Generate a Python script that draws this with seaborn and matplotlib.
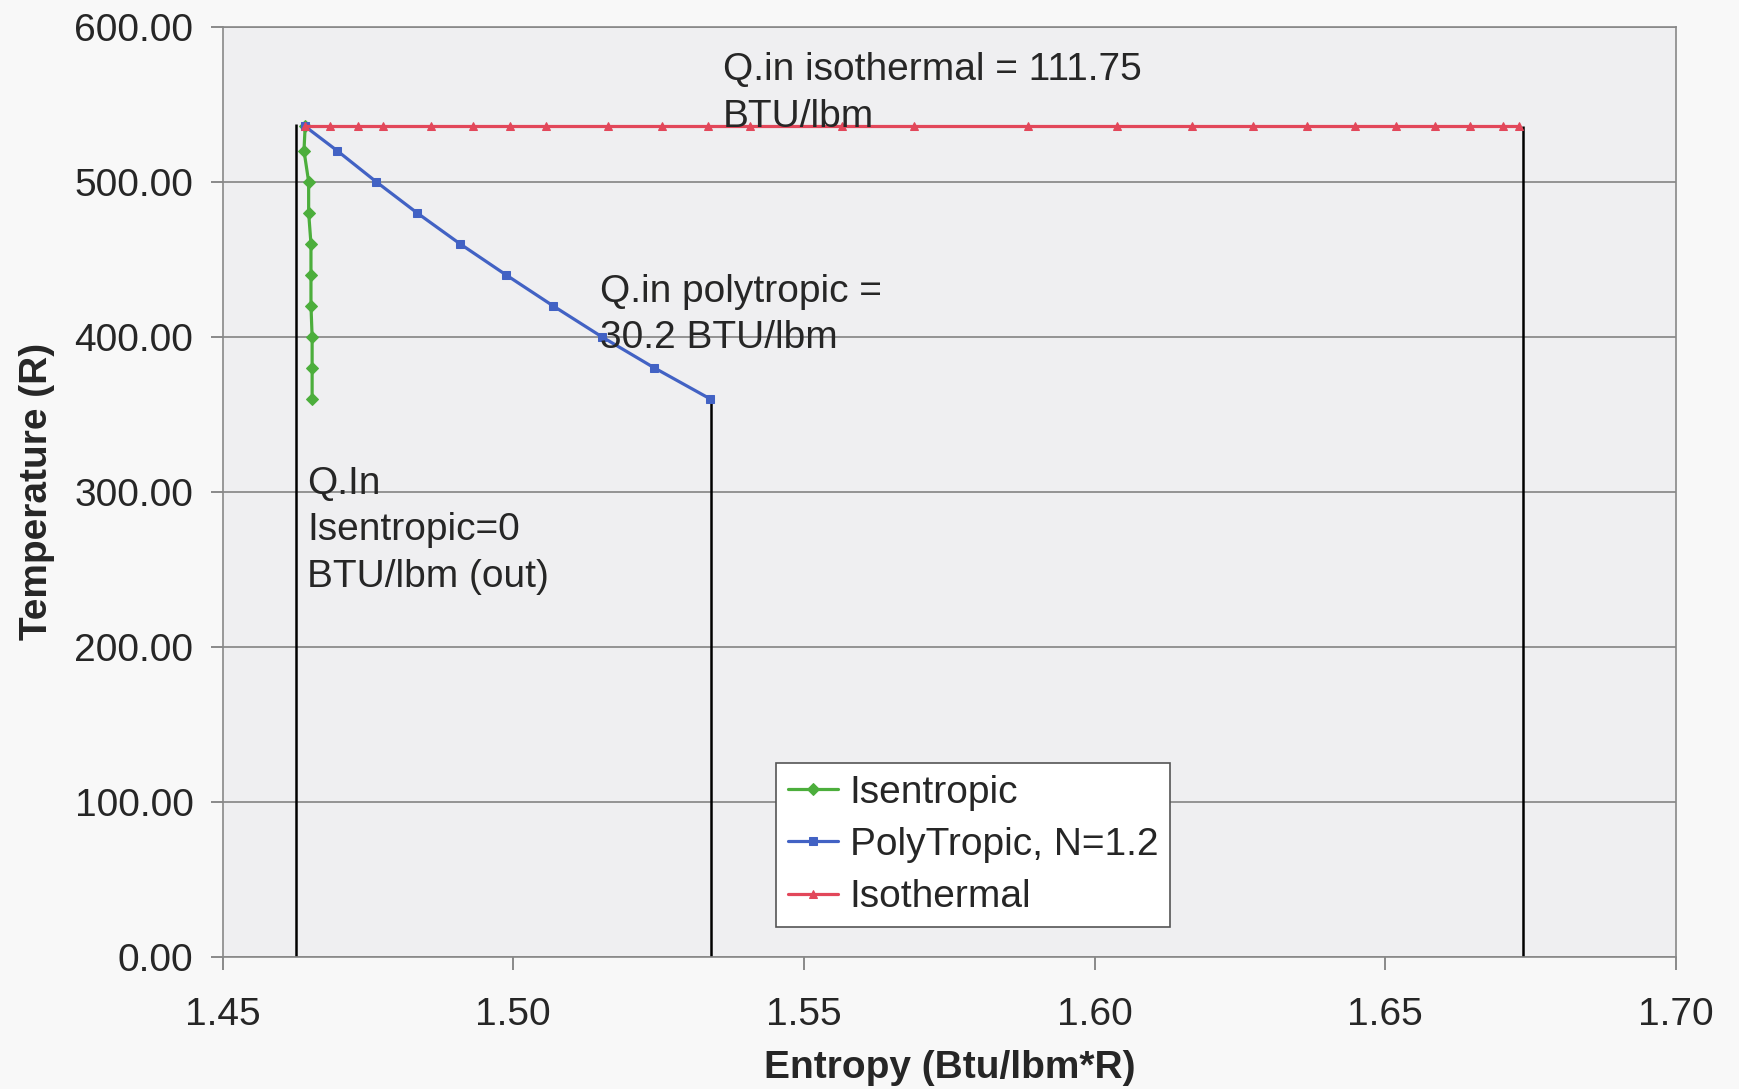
import numpy as np
import pandas as pd
import seaborn as sns
import matplotlib.pyplot as plt

isen_s = [1.4642, 1.4640, 1.4648, 1.4648, 1.4652, 1.4652, 1.4652, 1.4654, 1.4654, 1.4654]
isen_T = [535.67, 520, 500, 480, 460, 440, 420, 400, 380, 360]

poly_s = [1.4642, 1.4697, 1.4764, 1.4834, 1.4908, 1.4987, 1.5068, 1.5152, 1.5242, 1.5338]
poly_T = [535.67, 520, 500, 480, 460, 440, 420, 400, 380, 360]

iso_s = [1.4642, 1.4685, 1.4733, 1.4776, 1.4858, 1.4930, 1.4994, 1.5056, 1.5163,
         1.5255, 1.5335, 1.5408, 1.5565, 1.5689, 1.5886, 1.6038, 1.6167, 1.6273,
         1.6365, 1.6447, 1.6518, 1.6586, 1.6646, 1.6702, 1.6730]
iso_T = [535.67] * len(iso_s)

drop_s = [1.4627, 1.5340, 1.6737]
drop_T = [537, 360, 535.67]

labels = ["Isentropic", "PolyTropic, N=1.2", "Isothermal"]
colors = ["#4cae3c", "#4262c4", "#e2475a"]
markers = ["D", "s", "^"]

sns.set_style("white")
plt.rcParams['font.family'] = ['Liberation Sans', 'DejaVu Sans']

fig = plt.figure(figsize=(17.39, 10.89), dpi=100, facecolor="#f8f8f8")
ax = fig.add_axes([0.128, 0.1215, 0.8358, 0.854])
ax.set_facecolor("#efeff1")

ax.vlines(drop_s, 0, drop_T, colors="black", lw=1.8, zorder=2)

for s, T, lab, c, m in zip([isen_s, poly_s, iso_s], [isen_T, poly_T, iso_T],
                           labels, colors, markers):
    sns.lineplot(x=s, y=T, ax=ax, sort=False, estimator=None, label=lab,
                 color=c, marker=m, markersize=6, markeredgecolor=c, lw=2.3, zorder=3)

ax.set_xlim(1.45, 1.70)
ax.set_ylim(0, 600)
ax.set_xticks(np.arange(1.45, 1.701, 0.05))
ax.set_yticks(np.arange(0, 601, 100))
ax.xaxis.set_major_formatter(plt.FormatStrFormatter("%.2f"))
ax.yaxis.set_major_formatter(plt.FormatStrFormatter("%.2f"))
ax.tick_params(axis="both", labelsize=28, length=9, width=1.2, color="#777777",
               direction="out", bottom=True, left=True)
ax.tick_params(axis="x", pad=20)
ax.tick_params(axis="y", pad=12)
ax.grid(axis="y", color="#7a7a7a", lw=1.1)
ax.set_axisbelow(True)
for sp in ax.spines.values():
    sp.set_color("#888888")
    sp.set_linewidth(1.2)

ax.set_xlabel("Entropy (Btu/lbm*R)", fontsize=28, fontweight="bold", labelpad=12)
ax.set_ylabel("Temperature (R)", fontsize=28, fontweight="bold", labelpad=14)

ax.text(1.5361, 557, "Q.in isothermal = 111.75\nBTU/lbm", fontsize=28,
        va="center", ha="left", linespacing=1.37, zorder=4)
ax.text(1.5149, 414, "Q.in polytropic =\n30.2 BTU/lbm", fontsize=28,
        va="center", ha="left", linespacing=1.37, zorder=4)
ax.text(1.4645, 275, "Q.In\nIsentropic=0\nBTU/lbm (out)", fontsize=28,
        va="center", ha="left", linespacing=1.37, zorder=4)

leg = ax.legend(loc="lower left", bbox_to_anchor=(0.3807, 0.0319), fontsize=28,
                frameon=True, fancybox=False, edgecolor="#555555", facecolor="white",
                framealpha=1, handlelength=1.3, handletextpad=0.3, borderpad=0.3,
                labelspacing=0.42, borderaxespad=0)
leg.get_frame().set_linewidth(1.2)

fig.savefig("out.png", dpi=100, facecolor=fig.get_facecolor())
